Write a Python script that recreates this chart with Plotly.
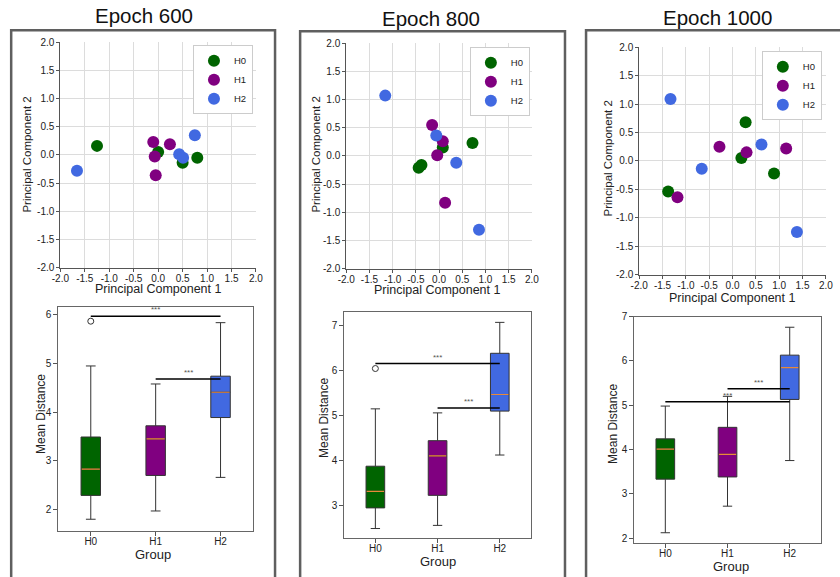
import plotly.graph_objects as go

# ---------------- data ----------------
groups = ["H0", "H1", "H2"]
epochs = ["Epoch 600", "Epoch 800", "Epoch 1000"]
colors = ["#006400", "#800080", "#4169E1"]

# PCA coordinates (per group lists)  [H0, H1, H2]
pc1_e600 = [[-1.25, 0.00, 0.50, 0.80], [-0.10, 0.24, -0.07, -0.05], [-1.66, 0.43, 0.51, 0.75]]
pc2_e600 = [[0.16, 0.05, -0.14, -0.05], [0.23, 0.19, -0.03, -0.36], [-0.28, 0.01, -0.05, 0.35]]
pc1_e800 = [[0.08, 0.72, -0.44, -0.38], [-0.15, 0.08, -0.04, 0.13], [-1.16, -0.06, 0.37, 0.86]]
pc2_e800 = [[0.15, 0.23, -0.21, -0.16], [0.55, 0.26, 0.01, -0.83], [1.07, 0.36, -0.12, -1.31]]
pc1_e1000 = [[0.28, 0.19, 0.89, -1.38], [-0.28, 1.15, 0.30, -1.18], [-1.33, 0.62, -0.66, 1.38]]
pc2_e1000 = [[0.68, 0.05, -0.22, -0.54], [0.25, 0.22, 0.15, -0.64], [1.09, 0.29, -0.14, -1.25]]

# Box statistics of mean distance  [H0, H1, H2]
low_e600 = [1.80, 1.97, 2.66]
q1_e600 = [2.29, 2.70, 3.89]
med_e600 = [2.83, 3.45, 4.41]
q3_e600 = [3.49, 3.72, 4.74]
up_e600 = [4.95, 4.58, 5.84]
out_e600 = [[5.87], [], []]
sig_e600 = [(0, 2, 5.97), (1, 2, 4.68)]

low_e800 = [2.48, 2.55, 4.12]
q1_e800 = [2.94, 3.22, 5.10]
med_e800 = [3.31, 4.10, 5.47]
q3_e800 = [3.87, 4.44, 6.39]
up_e800 = [5.15, 5.06, 7.08]
out_e800 = [[6.05], [], []]
sig_e800 = [(0, 2, 6.16), (1, 2, 5.17)]

low_e1000 = [2.12, 2.72, 3.75]
q1_e1000 = [3.33, 3.38, 5.13]
med_e1000 = [4.01, 3.89, 5.85]
q3_e1000 = [4.24, 4.50, 6.13]
up_e1000 = [4.98, 5.20, 6.76]
out_e1000 = [[], [], []]
sig_e1000 = [(0, 2, 5.08), (1, 2, 5.37)]

pc_ticks = [-2.0, -1.5, -1.0, -0.5, 0.0, 0.5, 1.0, 1.5, 2.0]
pc_ticklabels = ["-2.0", "-1.5", "-1.0", "-0.5", "0.0", "0.5", "1.0", "1.5", "2.0"]

# ---------------- layout helpers ----------------
# The captured picture shows the page with an 8px body margin, scaled by ~0.978.
# Positions below are given in picture pixels and mapped back to figure pixels.
OFF = 8
S = 0.978
W = round(840 / S - OFF)
H = round(577 / S - OFF)
FONT = "Liberation Sans, Arial, sans-serif"


def px(v):
    return (v / S - OFF) / W


def py(v):
    return 1 - (v / S - OFF) / H


def xd(a, b):
    return [px(a), px(b)]


def yd(top, bot):
    return [py(bot), py(top)]


scatter_dom = [((59, 254), (44, 269)), ((344, 529), (45, 270)), ((636, 822), (49, 276))]
box_dom = [((57, 251), (308, 532)), ((342, 528), (313, 539)), ((631, 817), (318, 544))]
box_yrange = [[1.56, 6.17], [2.27, 7.32], [1.89, 7.0]]
legend_pos = [(251, 47), (527, 49), (818, 53)]
panels = [(10, 273, 32), (298, 562, 33), (583, 880, 32)]
title_pos = [(142, 17), (428, 20), (714, 19)]
sc_xtitle = [(157, 290), (435, 291), (729, 299)]
sc_ytitle = [(26, 156), (314, 156), (605, 160)]
bx_ytitle = [(39, 415), (322, 419), (610, 425)]
bx_xtitle = [(151, 556), (435, 563), (727, 568)]

pc1_all = [pc1_e600, pc1_e800, pc1_e1000]
pc2_all = [pc2_e600, pc2_e800, pc2_e1000]
low_all = [low_e600, low_e800, low_e1000]
q1_all = [q1_e600, q1_e800, q1_e1000]
med_all = [med_e600, med_e800, med_e1000]
q3_all = [q3_e600, q3_e800, q3_e1000]
up_all = [up_e600, up_e800, up_e1000]
out_all = [out_e600, out_e800, out_e1000]
sig_all = [sig_e600, sig_e800, sig_e1000]

BOXW = 0.3

fig = go.Figure()
layout = dict(
    width=W, height=H, margin=dict(l=0, r=0, t=0, b=0),
    paper_bgcolor="white", plot_bgcolor="white",
    font=dict(family=FONT, color="#222"),
    showlegend=True,
)
shapes = []
annotations = []

for e in range(3):
    sx = e + 1
    bx = e + 4
    sxn = "" if sx == 1 else str(sx)
    # ---- scatter ----
    legname = "legend" if e == 0 else "legend%d" % (e + 1)
    for g in range(3):
        fig.add_trace(go.Scatter(
            x=pc1_all[e][g], y=pc2_all[e][g], mode="markers", name=groups[g],
            marker=dict(color=colors[g], size=12, line=dict(width=0)),
            xaxis="x" + sxn, yaxis="y" + sxn, legend=legname,
        ))
    (xa, xb), (yt, yb) = scatter_dom[e]
    common = dict(range=[-2, 2], tickvals=pc_ticks, ticktext=pc_ticklabels,
                  showgrid=True, gridcolor="#dcdcdc", gridwidth=1, zeroline=False,
                  showline=True, linecolor="#555", linewidth=1, ticks="outside",
                  ticklen=3, tickcolor="#555", tickfont=dict(size=10, color="#222"),
                  fixedrange=True)
    layout["xaxis" + sxn] = dict(domain=xd(xa, xb), anchor="y" + sxn,
                                 ticklabelstandoff=-2, **common)
    layout["yaxis" + sxn] = dict(domain=yd(yt, yb), anchor="x" + sxn, **common)
    lx, ly = legend_pos[e]
    layout[legname] = dict(x=px(lx), xanchor="right", y=py(ly), yanchor="top",
                           bgcolor="white", bordercolor="#cccccc", borderwidth=1,
                           font=dict(size=9.5, color="#222"), itemwidth=30,
                           tracegroupgap=0)

    # ---- box ----
    bxn = str(bx)
    for g in range(3):
        fig.add_trace(go.Box(
            x=[g], q1=[q1_all[e][g]], median=[med_all[e][g]], q3=[q3_all[e][g]],
            lowerfence=[low_all[e][g]], upperfence=[up_all[e][g]],
            fillcolor=colors[g], line=dict(color="#333333", width=1),
            whiskerwidth=0.5, width=BOXW, boxpoints=False, showlegend=False,
            name=groups[g], xaxis="x" + bxn, yaxis="y" + bxn,
        ))
        shapes.append(dict(type="line", xref="x" + bxn, yref="y" + bxn,
                           x0=g - BOXW / 2 + 0.01, x1=g + BOXW / 2 - 0.01,
                           y0=med_all[e][g], y1=med_all[e][g],
                           line=dict(color="#e8893a", width=1.2), layer="above"))
        if out_all[e][g]:
            fig.add_trace(go.Scatter(
                x=[g] * len(out_all[e][g]), y=out_all[e][g], mode="markers",
                marker=dict(symbol="circle-open", size=6, color="#333",
                            line=dict(width=1, color="#333")),
                showlegend=False, xaxis="x" + bxn, yaxis="y" + bxn,
            ))
    for (i, j, yv) in sig_all[e]:
        shapes.append(dict(type="line", xref="x" + bxn, yref="y" + bxn,
                           x0=i, x1=j, y0=yv, y1=yv,
                           line=dict(color="black", width=1.5), layer="above"))
        annotations.append(dict(x=(i + j) / 2, y=yv, xref="x" + bxn, yref="y" + bxn,
                                text="***", showarrow=False, yanchor="bottom", yshift=0,
                                font=dict(size=8, color="#555")))
    (xa, xb), (yt, yb) = box_dom[e]
    layout["xaxis" + bxn] = dict(domain=xd(xa, xb), anchor="y" + bxn, range=[-0.5, 2.5],
                                 tickvals=[0, 1, 2], ticktext=groups, showgrid=False,
                                 zeroline=False, showline=True, mirror=True,
                                 linecolor="#666", linewidth=1, ticks="outside",
                                 ticklen=4, tickcolor="#555", ticklabelstandoff=-3,
                                 tickfont=dict(size=10, color="#222"), fixedrange=True)
    layout["yaxis" + bxn] = dict(domain=yd(yt, yb), anchor="x" + bxn, range=box_yrange[e],
                                 dtick=1, tick0=0, showgrid=False, zeroline=False,
                                 showline=True, mirror=True, linecolor="#666",
                                 linewidth=1, ticks="outside", ticklen=4,
                                 tickcolor="#555", tickfont=dict(size=10, color="#222"),
                                 fixedrange=True)

    # ---- panel frame & texts ----
    p0, p1, ptop = panels[e]
    shapes.append(dict(type="rect", xref="paper", yref="paper",
                       x0=px(p0), x1=px(p1), y0=py(ptop), y1=-0.1,
                       line=dict(color="#5f5f5f", width=2.5), layer="below"))
    tx, ty = title_pos[e]
    annotations.append(dict(x=px(tx), y=py(ty), xref="paper", yref="paper",
                            text=epochs[e], showarrow=False, xanchor="center",
                            yanchor="middle", font=dict(size=20.5, color="#111")))
    ax_, ay_ = sc_xtitle[e]
    annotations.append(dict(x=px(ax_), y=py(ay_), xref="paper", yref="paper",
                            text="Principal Component 1", showarrow=False,
                            xanchor="center", yanchor="middle",
                            font=dict(size=12.5, color="#222")))
    ax_, ay_ = sc_ytitle[e]
    annotations.append(dict(x=px(ax_), y=py(ay_), xref="paper", yref="paper",
                            text="Principal Component 2", showarrow=False, textangle=-90,
                            xanchor="center", yanchor="middle",
                            font=dict(size=11.5, color="#222")))
    ax_, ay_ = bx_ytitle[e]
    annotations.append(dict(x=px(ax_), y=py(ay_), xref="paper", yref="paper",
                            text="Mean Distance", showarrow=False, textangle=-90,
                            xanchor="center", yanchor="middle",
                            font=dict(size=12, color="#222")))
    ax_, ay_ = bx_xtitle[e]
    annotations.append(dict(x=px(ax_), y=py(ay_), xref="paper", yref="paper",
                            text="Group", showarrow=False,
                            xanchor="center", yanchor="middle",
                            font=dict(size=13, color="#222")))

layout["shapes"] = shapes
layout["annotations"] = annotations
fig.update_layout(**layout)
fig.write_html("out.html")
